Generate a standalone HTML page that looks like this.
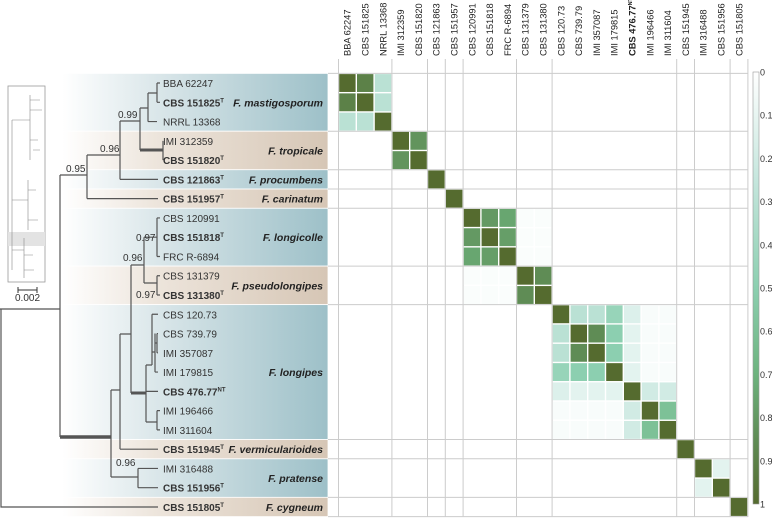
<!DOCTYPE html>
<html><head><meta charset="utf-8"><style>
html,body{margin:0;padding:0;background:#fff;}
svg{display:block;font-family:"Liberation Sans",Arial,sans-serif;}
</style></head><body>
<svg id="fig" width="772" height="518" viewBox="0 0 772 518" xmlns="http://www.w3.org/2000/svg">
<defs>
<linearGradient id="gBlue" x1="0" x2="1" y1="0" y2="0"><stop offset="0" stop-color="#ffffff"/><stop offset="0.35" stop-color="#dbe7ea"/><stop offset="1" stop-color="#9dc0c8"/></linearGradient>
<linearGradient id="gTan" x1="0" x2="1" y1="0" y2="0"><stop offset="0" stop-color="#ffffff"/><stop offset="0.35" stop-color="#ede5dc"/><stop offset="1" stop-color="#d6c6b5"/></linearGradient>
<linearGradient id="gBar" x1="0" x2="0" y1="0" y2="1"><stop offset="0" stop-color="#ffffff"/><stop offset="0.25" stop-color="#c5e6dd"/><stop offset="0.5" stop-color="#8ccfb0"/><stop offset="0.7" stop-color="#6db37e"/><stop offset="0.85" stop-color="#5f8c55"/><stop offset="1" stop-color="#556b2f"/></linearGradient>
</defs>
<g id="bands"></g>
<g id="grid"></g>
<g id="cells"></g>
<g id="tree" stroke="#555" stroke-width="1.2" fill="none"></g>
<g id="labels"></g>
<g id="colbar"></g>
</svg>
<script>
const strains = ["BBA 62247","CBS 151825","NRRL 13368","IMI 312359","CBS 151820","CBS 121863","CBS 151957","CBS 120991","CBS 151818","FRC R-6894","CBS 131379","CBS 131380","CBS 120.73","CBS 739.79","IMI 357087","IMI 179815","CBS 476.77","IMI 196466","IMI 311604","CBS 151945","IMI 316488","CBS 151956","CBS 151805"];
const typeMark = ["","T","","","T","T","T","","T","","","T","","","","","NT","","","T","","T","T"];
const species = ["F. mastigosporum","F. tropicale","F. procumbens","F. carinatum","F. longicolle","F. pseudolongipes","F. longipes","F. vermicularioides","F. pratense","F. cygneum"];
const groupSizes = [3,2,1,1,3,2,7,1,2,1];
const pairI = [0,0,1,3,7,7,8,7,7,8,8,9,9,10,12,12,12,13,13,14,12,13,14,15,12,13,14,15,12,13,14,15,16,16,17,20];
const pairJ = [1,2,2,4,8,9,9,10,11,10,11,10,11,11,13,14,15,14,15,15,16,16,16,16,17,17,17,17,18,18,18,18,17,18,18,21];
const pairV = [0.9,0.3,0.3,0.82,0.8,0.75,0.78,0.02,0.02,0.02,0.02,0.02,0.02,0.85,0.3,0.3,0.45,0.85,0.5,0.5,0.15,0.12,0.12,0.12,0.03,0.03,0.03,0.03,0.03,0.03,0.03,0.03,0.2,0.2,0.6,0.12];
const barTicks = [0,0.1,0.2,0.3,0.4,0.5,0.6,0.7,0.8,0.9,1];

const NS="http://www.w3.org/2000/svg";
const N=strains.length, top0=73.4, rowH=19.27, x0=338.5, colW=17.8, mRight=x0+N*colW;
function rowY(i){return top0+rowH*i;}
function colX(j){return x0+colW*j;}
function mk(tag,attrs,parent){const e=document.createElementNS(NS,tag);for(const k in attrs)e.setAttribute(k,attrs[k]);parent.appendChild(e);return e;}
const stops=[[0,[255,255,255]],[0.25,[197,230,221]],[0.5,[140,207,176]],[0.7,[109,179,126]],[0.85,[95,140,85]],[1,[85,107,47]]];
function color(v){for(let k=1;k<stops.length;k++){if(v<=stops[k][0]){const a=stops[k-1],b=stops[k],t=(v-a[0])/(b[0]-a[0]);return "rgb("+a[1].map((c,i)=>Math.round(c+(b[1][i]-c)*t)).join(",")+")";}}return "rgb(85,107,47)";}

const bands=document.getElementById('bands'),grid=document.getElementById('grid'),cells=document.getElementById('cells'),labels=document.getElementById('labels'),tree=document.getElementById('tree'),colbar=document.getElementById('colbar');
let r=0;const bounds=[0];
groupSizes.forEach((s,g)=>{
  const b=mk('rect',{x:62,y:rowY(r),width:266,height:rowH*s,fill:g%2?'url(#gTan)':'url(#gBlue)',stroke:'#fff','stroke-width':0.8},bands);
  
  
  const t=mk('text',{x:323,y:rowY(r)+rowH*s/2+4,'text-anchor':'end','font-size':10.5,'font-weight':'bold','font-style':'italic',fill:'#222'},labels);
  t.textContent=species[g];
  
  
  r+=s;bounds.push(r);
});
bounds.forEach(k=>{
  const l=mk('line',{x1:328,x2:mRight,y1:rowY(k),y2:rowY(k),stroke:'#ccc','stroke-width':1},grid);
  
  
  const v=mk('line',{x1:colX(k),x2:colX(k),y1:59,y2:517,stroke:'#ccc','stroke-width':1},grid);
  
  
});
strains.forEach((s,i)=>{
  const bold=typeMark[i]!=="";
  const t=mk('text',{x:163,y:rowY(i)+rowH/2+4,'font-size':10,fill:'#333','font-weight':bold?'bold':'normal'},labels);
  t.textContent=s;
  if(bold){const sp=mk('tspan',{'font-size':6,dy:-4},t);sp.textContent=typeMark[i];}
  
  
  const cx=colX(i)+colW/2+3.3;
  const c=mk('text',{x:cx,y:56,'font-size':9.3,fill:'#222','font-weight':i===16?'bold':'normal',transform:'rotate(-90 '+cx+' 56)'},labels);
  c.textContent=s;
  if(i===16){const sp=mk('tspan',{'font-size':5.5,dy:-3.5},c);sp.textContent='NT';}
  
  
});
const M=[];for(let i=0;i<N;i++){M.push(new Array(N).fill(0));M[i][i]=1;}
pairI.forEach((a,k)=>{M[a][pairJ[k]]=pairV[k];M[pairJ[k]][a]=pairV[k];});
for(let i=0;i<N;i++)for(let j=0;j<N;j++){
  if(M[i][j]<=0)continue;
  const c=mk('rect',{x:colX(j)+0.7,y:rowY(i)+0.7,width:colW-1.4,height:rowH-1.4,fill:color(M[i][j])},cells);
  
  
}
const by0=72,by1=504;
const cb=mk('rect',{x:753,y:by0,width:6,height:by1-by0,fill:'url(#gBar)',stroke:'#999','stroke-width':0.6},colbar);


barTicks.forEach(v=>{
  const y=by0+(by1-by0)*v;
  const t=mk('text',{x:760,y:y+3.5,'font-size':9,fill:'#333'},colbar);
  t.textContent=String(v);
  
  
});
function p(d,w){const e=mk('path',{d:d},tree);if(w)e.setAttribute('stroke-width',w);}
const Y=i=>rowY(i)+rowH/2;
p(`M0,309H60M1,309V${Y(22)}H158`);
p(`M60,175V437M60,175H87M87,155V${Y(6)}M87,${Y(6)}H158M87,155H120M120,121V${Y(5)}M120,${Y(5)}H158M120,121H140M140,108V150M140,108H148M148,93V${Y(2)}M148,${Y(2)}H157M148,93H157M157,${Y(0)}V${Y(1)}M157,${Y(0)}H160M157,${Y(1)}H160M163,${Y(3)}V${Y(4)}`);
p(`M140,150H163`,3);
p(`M60,437H111`,3.5);
p(`M111,390V477M111,390H120M120,334V${Y(19)}M120,${Y(19)}H158M120,334H131M131,265V393M131,265H144M144,${Y(8)}V283M144,${Y(8)}H157M157,${Y(7)}V${Y(9)}M157,${Y(7)}H160M157,${Y(9)}H160M144,283H157M157,${Y(10)}V${Y(11)}M157,${Y(10)}H160M157,${Y(11)}H160`);
p(`M131,393H146`,3);
p(`M146,365V422M146,${Y(16)}H158M146,365H152M152,${Y(12)}V365M152,${Y(12)}H158M152,352H155M155,${Y(13)}V${Y(15)}M155,${Y(15)}H158M155,343H157M157,${Y(13)}V${Y(14)}M157,${Y(13)}H158M157,${Y(14)}H158M146,422H157M157,${Y(17)}V${Y(18)}M157,${Y(17)}H160M157,${Y(18)}H160`);
p(`M111,477H138M138,${Y(20)}V${Y(21)}M138,${Y(20)}H158M138,${Y(21)}H158`);
[[66,172,"0.95"],[100,152,"0.96"],[118,118,"0.99"],[123,261,"0.96"],[136,241,"0.97"],[136,298,"0.97"],[116,466,"0.96"]].forEach(a=>{
  const t=mk('text',{x:a[0],y:a[1],'font-size':10,fill:'#333'},labels);
  t.textContent=a[2];
  
  
});
const ov=mk('rect',{x:8,y:86,width:37,height:196,fill:'#fff',stroke:'#999','stroke-width':0.8},labels);


const hl=mk('rect',{x:8,y:232,width:37,height:14,fill:'#e3e3e3'},labels);


const ovp=mk('path',{d:'M12,270V120M12,120H30M30,95V160M30,100H40M30,140H38M12,200H28M28,180V230M28,190H36M28,220H38M12,250H24M24,238V278M24,255H33M24,270H34M30,110H42M33,150H40',stroke:'#888','stroke-width':0.6,fill:'none'},labels);


const sb=mk('path',{d:'M18,290H37M18,287V293M37,287V293',stroke:'#333','stroke-width':1,fill:'none'},labels);


const st=mk('text',{x:15,y:301,'font-size':10,fill:'#333'},labels);
st.textContent='0.002';


</script>
</body></html>
